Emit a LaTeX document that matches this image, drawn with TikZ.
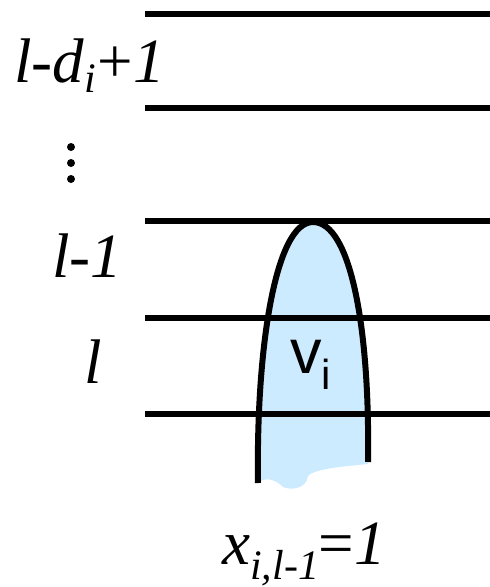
\documentclass[tikz,border=0pt]{standalone}
\usepackage{fontspec}
\setmainfont{Liberation Serif}
\newfontfamily\sansf{Liberation Sans}
\definecolor{cellblue}{RGB}{204,235,255}
\newcommand{\bigf}{\fontsize{63}{63}\selectfont}
\newcommand{\subf}{\fontsize{42}{42}\selectfont}
\begin{document}
\begin{tikzpicture}[x=1pt,y=-1pt,
  level/.style={line width=6pt},
  outline/.style={line width=6pt},
  lab/.style={inner sep=0pt,anchor=base west,font=\bigf}]
\useasboundingbox (0,0) rectangle (490,587);
% fill of the vertex region
\fill[cellblue] (258,483) .. controls (256,350) and (275,222) .. (313,222)
  .. controls (351,222) and (370,330) .. (368,462)
  -- (368,464) .. controls (350,466) and (315,468) .. (308,476)
  .. controls (306,490) and (290,490) .. (283,487)
  .. controls (276,480) and (266,476) .. (258,483) -- cycle;
% level lines
\foreach \y in {14,108,221,318,414}
  \draw[level] (145,\y) -- (490,\y);
% outline
\draw[outline] (258,483) .. controls (256,350) and (275,222) .. (313,222)
  .. controls (351,222) and (370,330) .. (368,462);
% labels
\node[lab] (top) at (14,82) {\itshape l-d\raisebox{-10pt}{\subf i}\hspace{2pt}{\upshape +}1};
\node[lab] (lm1) at (52,277) {\itshape l-1};
\node[lab] (l) at (84,383) {\itshape l};
\fill (71,147) circle (4) (71,163) circle (4) (71,179) circle (4);
\node[lab,font=\bigf\sansf] (vi) at (290,373) {v\raisebox{-16pt}{\subf i}};
\node[lab] (x) at (222,564) {\itshape x\raisebox{-15pt}{\subf i,l-1}{\upshape =}1};
\end{tikzpicture}
\end{document}
